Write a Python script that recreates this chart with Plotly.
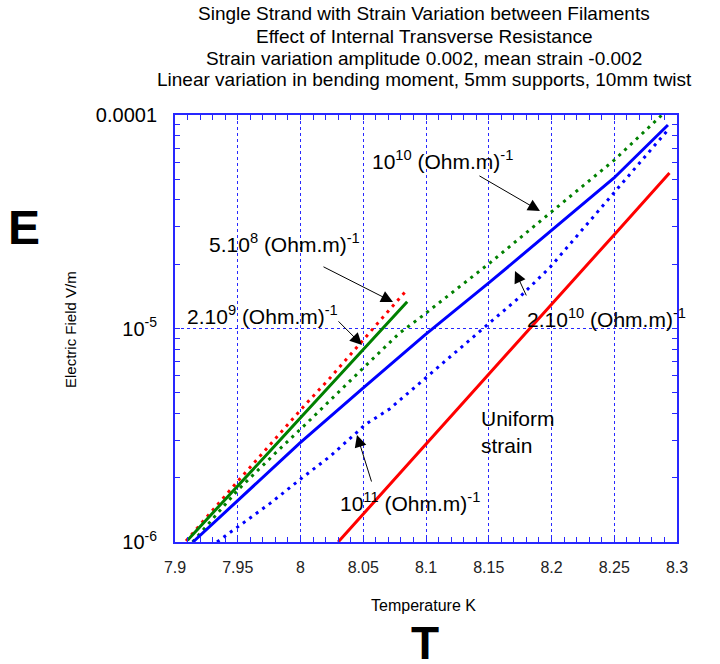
import math
import plotly.graph_objects as go

# ---------------- data ----------------
# 5.10^8 (Ohm.m)^-1  (red dotted)
t_5e8 = [7.9088, 7.9263, 7.9502, 7.9693, 7.9853, 8.0036, 8.0235, 8.0498, 8.0737, 8.0833]
e_5e8 = [1.011e-6, 1.336e-6, 1.931e-6, 2.584e-6, 3.31e-6, 4.385e-6, 5.86e-6, 8.83e-6, 1.273e-5, 1.483e-5]

# 2.10^9 (Ohm.m)^-1  (green solid)
t_2e9 = [7.910, 7.930, 7.950, 7.975, 8.000, 8.030, 8.050, 8.070, 8.085]
e_2e9 = [1.02e-6, 1.364e-6, 1.828e-6, 2.64e-6, 3.82e-6, 5.93e-6, 7.96e-6, 1.069e-5, 1.333e-5]

# 10^10 (Ohm.m)^-1  (green dotted)
t_1e10 = [7.914, 7.950, 7.980, 8.006, 8.050, 8.079, 8.095, 8.151, 8.199, 8.250, 8.288]
e_1e10 = [1.00e-6, 1.75e-6, 2.61e-6, 3.65e-6, 6.53e-6, 9.53e-6, 1.12e-5, 2.03e-5, 3.48e-5, 6.15e-5, 1.00e-4]

# 2.10^10 (Ohm.m)^-1  (blue solid)
t_2e10 = [7.9143, 7.9502, 7.9996, 8.0498, 8.0992, 8.151, 8.1988, 8.2498, 8.2928]
e_2e10 = [1.00e-6, 1.574e-6, 2.91e-6, 5.26e-6, 9.33e-6, 1.652e-5, 2.83e-5, 5.07e-5, 8.98e-5]

# 10^11 (Ohm.m)^-1  (blue dotted)
t_1e11 = [7.9335, 7.950, 7.976, 8.000, 8.024, 8.047, 8.051, 8.071, 8.098, 8.143, 8.175, 8.199, 8.250, 8.292]
e_1e11 = [1.00e-6, 1.175e-6, 1.52e-6, 1.97e-6, 2.53e-6, 3.35e-6, 3.53e-6, 4.20e-6, 5.74e-6, 9.73e-6,
          1.41e-5, 1.94e-5, 4.35e-5, 8.41e-5]

# Uniform strain  (red solid)
t_unif = [8.030, 8.060, 8.095, 8.120, 8.150, 8.185, 8.215, 8.250, 8.294]
e_unif = [1.00e-6, 1.574e-6, 2.66e-6, 3.88e-6, 6.10e-6, 1.035e-5, 1.626e-5, 2.75e-5, 5.35e-5]

# axis ticks
x_ticks = [7.9, 7.95, 8.0, 8.05, 8.1, 8.15, 8.2, 8.25, 8.3]
x_ticktext = ["7.9", "7.95", "8", "8.05", "8.1", "8.15", "8.2", "8.25", "8.3"]
y_ticks = [1e-6, 1e-5, 1e-4]
y_ticktext = ["10<sup>-6</sup>", "10<sup>-5</sup>", "0.0001"]
y_minor = [k * 10.0 ** p for p in (-6, -5) for k in range(2, 10)]

# curve labels: text, label centre (T, E), arrow tip (T, E), tail offset (px)
labels = ["5.10<sup>8</sup> (Ohm.m)<sup>-1</sup>",
          "2.10<sup>9</sup> (Ohm.m)<sup>-1</sup>",
          "10<sup>10</sup> (Ohm.m)<sup>-1</sup>",
          "2.10<sup>10</sup> (Ohm.m)<sup>-1</sup>",
          "10<sup>11</sup> (Ohm.m)<sup>-1</sup>"]
label_t = [7.9869, 7.9701, 8.1135, 8.2442, 8.0873]
label_e = [2.51e-5, 1.156e-5, 6.15e-5, 1.12e-5, 1.54e-6]
tip_t = [8.0737, 8.049, 8.1908, 8.1709, 8.045]
tip_e = [1.33e-5, 8.38e-6, 3.55e-5, 1.86e-5, 3.17e-6]
tail_dx = [-71, -25, -62, 12, 15]
tail_dy = [-36, -25, -36, 26, 48]

title_lines = ["Single Strand with Strain Variation between Filaments",
               "Effect of Internal Transverse Resistance",
               "Strain variation amplitude 0.002, mean strain -0.002",
               "Linear variation in bending moment, 5mm supports, 10mm twist"]

# ---------------- figure ----------------
FONT = "Liberation Sans, Arial, sans-serif"
AXBLUE = "rgb(40,40,255)"

fig = go.Figure()
series = [
    (t_5e8, e_5e8, "rgb(255,0,0)", "3px,5px", 3),
    (t_2e9, e_2e9, "rgb(0,128,0)", "solid", 3),
    (t_1e10, e_1e10, "rgb(0,128,0)", "3px,5px", 3),
    (t_2e10, e_2e10, "rgb(0,0,255)", "solid", 3),
    (t_1e11, e_1e11, "rgb(0,0,255)", "3px,5px", 3),
    (t_unif, e_unif, "rgb(255,0,0)", "solid", 3),
]
for t, e, col, dash, w in series:
    fig.add_trace(go.Scatter(x=t, y=e, mode="lines",
                             line=dict(color=col, dash=dash, width=w),
                             showlegend=False, hoverinfo="skip"))

annotations = []
for txt, lt, le in zip(labels, label_t, label_e):
    annotations.append(dict(x=lt, y=math.log10(le), xref="x", yref="y", text=txt,
                            xanchor="center", yanchor="middle",
                            showarrow=False, font=dict(family=FONT, size=21, color="black")))
annotations.append(dict(x=8.1422, y=math.log10(3.27e-6), xref="x", yref="y",
                        text="Uniform<br>strain", align="left", xanchor="left", yanchor="middle",
                        showarrow=False, font=dict(family=FONT, size=21, color="black")))
for tt, te, dx, dy in zip(tip_t, tip_e, tail_dx, tail_dy):
    annotations.append(dict(x=tt, y=math.log10(te), xref="x", yref="y", text="",
                            showarrow=True, ax=dx, ay=dy, arrowhead=2, arrowsize=2.4,
                            arrowwidth=1, arrowcolor="black", standoff=0))


def px(xp, yp):
    """figure pixel -> paper coords of this plot area"""
    return (xp - 175) / 502, (542 - yp) / 427


def paper_text(xp, yp, txt, size, bold=False, angle=0):
    x0, y0 = px(xp, yp)
    annotations.append(dict(x=x0, y=y0, xref="paper", yref="paper",
                            text=("<b>%s</b>" % txt) if bold else txt,
                            textangle=angle, showarrow=False,
                            xanchor="center", yanchor="middle",
                            font=dict(family=FONT, size=size, color="black")))


for txt, py in zip(title_lines, [14, 36, 58, 80]):
    paper_text(424, py, txt, 19)

paper_text(423, 605, "Temperature K", 16)
paper_text(70, 330, "Electric Field V/m", 15, angle=-90)
paper_text(24, 227, "E", 48, bold=True)
paper_text(425, 643, "T", 46, bold=True)

fig.update_layout(
    width=720, height=664,
    margin=dict(l=175, r=43, t=115, b=122),
    paper_bgcolor="white", plot_bgcolor="white",
    showlegend=False,
    annotations=annotations,
    xaxis=dict(range=[7.9, 8.3], tickmode="array", tickvals=x_ticks, ticktext=x_ticktext,
               ticks="inside", ticklen=5, tickcolor=AXBLUE, tickwidth=1,
               showline=True, linecolor=AXBLUE, linewidth=2, mirror="ticks",
               showgrid=True, gridcolor=AXBLUE, griddash="dot", gridwidth=1,
               zeroline=False, ticklabelstandoff=10,
               tickfont=dict(family=FONT, size=16, color="#222"),
               minor=dict(dtick=0.01, tick0=7.9, ticks="inside", ticklen=5,
                          tickcolor=AXBLUE, tickwidth=1, showgrid=False)),
    yaxis=dict(type="log", range=[-6, -4], tickmode="array", tickvals=y_ticks,
               ticktext=y_ticktext,
               ticks="inside", ticklen=5, tickcolor=AXBLUE, tickwidth=1,
               showline=True, linecolor=AXBLUE, linewidth=2, mirror="ticks",
               showgrid=True, gridcolor=AXBLUE, griddash="dot", gridwidth=1,
               zeroline=False, ticklabelstandoff=12,
               tickfont=dict(family=FONT, size=20, color="black"),
               minor=dict(tickmode="array", tickvals=y_minor, ticks="inside", ticklen=5,
                          tickcolor=AXBLUE, tickwidth=1, showgrid=False)),
)

fig.write_html("out.html")
